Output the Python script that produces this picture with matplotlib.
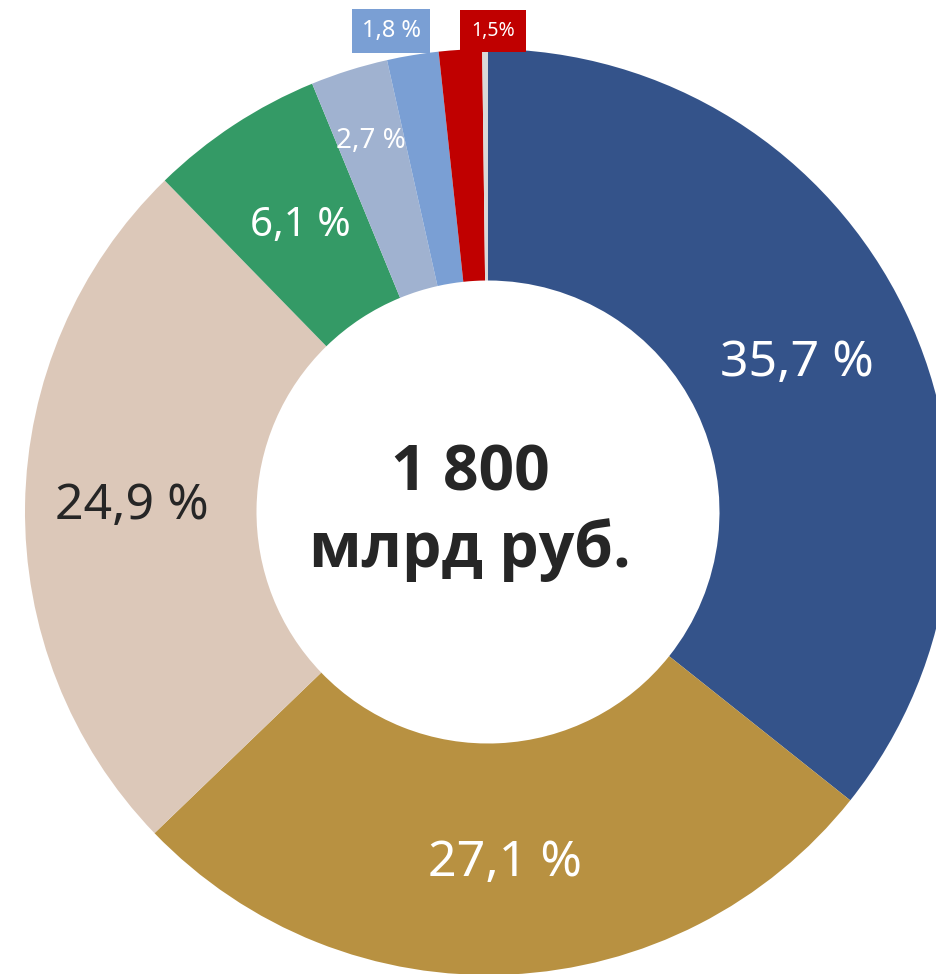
import numpy as np
import matplotlib.pyplot as plt

shares = [35.7, 27.1, 24.9, 6.1, 2.7, 1.8, 1.5, 0.2]
labels = ['35,7 %', '27,1 %', '24,9 %', '6,1 %', '2,7 %', '1,8 %', '1,5%', '']
colors = ['#34538A', '#B89141', '#DCC8B9', '#349A66', '#A0B2D0', '#7A9FD4', '#C00000', '#D9D9D9']
total_text = '1 800\nмлрд руб.'

plt.rcParams['font.family'] = ['Noto Sans', 'DejaVu Sans']

W, H = 936, 974
fig = plt.figure(figsize=(W / 100, H / 100), dpi=100)
ax = fig.add_axes([0, 0, 1, 1])

cx, cy, R = 488, H - 512, 463
wedges, _ = ax.pie(shares, colors=colors, startangle=90, counterclock=False,
                   radius=R, center=(cx, cy), frame=True,
                   wedgeprops=dict(width=R * 0.5, linewidth=0))
ax.set_xlim(0, W)
ax.set_ylim(0, H)
ax.set_aspect('auto')
ax.axis('off')

# label styling per slice: radial factor, size, colour
rad = [0.74, 0.76, 0.77, 0.74, 0.84]
sizes = [36, 36, 36, 29, 20]
tcol = ['white', 'white', '#262626', 'white', 'white']
for i in range(5):
    w = wedges[i]
    ang = np.deg2rad((w.theta1 + w.theta2) / 2)
    x = cx + rad[i] * R * np.cos(ang)
    y = cy + rad[i] * R * np.sin(ang)
    ax.text(x, y, labels[i], ha='center', va='center', fontsize=sizes[i], color=tcol[i])

# small slices labelled in boxes above the ring
ax.text(391, H - 31, labels[5], ha='center', va='center', fontsize=17, color='white',
        bbox=dict(boxstyle='square,pad=0.42', fc=colors[5], ec='none'))
ax.text(493, H - 31, labels[6], ha='center', va='center', fontsize=14, color='white',
        bbox=dict(boxstyle='square,pad=0.55', fc=colors[6], ec='none'))

ax.text(470, H - 512, total_text, ha='center', va='center', fontsize=45,
        fontweight='bold', family=['Open Sans', 'DejaVu Sans'], color='#262626',
        linespacing=1.25)

fig.savefig('out.png', dpi=100)
